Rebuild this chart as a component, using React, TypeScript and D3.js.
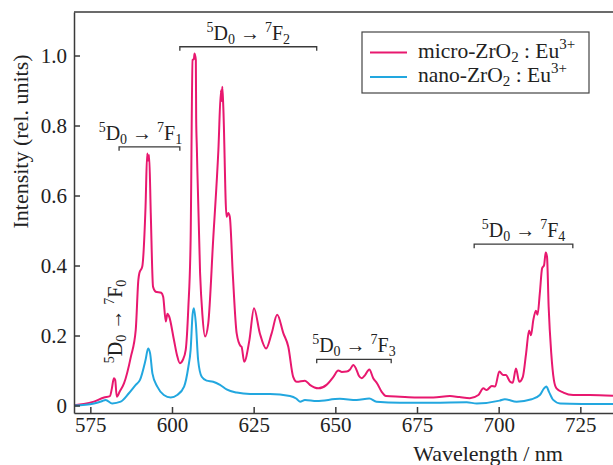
import React, { useEffect, useRef } from "react";
import * as d3 from "d3";

// micro-ZrO2:Eu3+ spectrum (pink)
const microWavelength = [
  570.0, 573.0, 576.1, 579.2, 581.0, 581.6, 582.2, 582.6, 583.1, 584.0, 585.3, 587.4, 588.9,
  589.7, 590.0, 590.9, 591.9, 592.4, 592.7, 593.0, 593.5, 594.2, 595.0, 596.7, 597.3, 598.1,
  598.6, 599.1, 600.6, 601.5, 602.4, 603.3, 604.2, 605.0, 605.7, 606.3, 606.7, 606.9, 607.3,
  607.4, 607.6, 608.6, 609.3, 610.1, 611.1, 612.6, 614.2, 615.0, 615.2, 615.4, 615.7, 616.7,
  617.2, 617.7, 618.6, 619.8, 621.0, 621.3, 622.1, 623.7, 625.1, 626.9, 628.8, 630.5, 632.2,
  634.1, 635.6, 637.1, 638.2, 640.7, 642.2, 644.8, 647.3, 649.4, 650.9, 652.0, 653.5, 654.5,
  655.5, 656.3, 657.2, 658.1, 659.1, 660.4, 661.6, 662.8, 664.2, 665.5, 669.8, 674.9, 680.0,
  685.1, 688.0, 691.2, 693.8, 695.3, 696.3, 697.9, 698.9, 700.2, 701.4, 702.2, 703.5, 704.3,
  705.3, 706.3, 707.4, 708.4, 709.3, 709.9, 710.6, 711.4, 711.9, 712.6, 713.3, 713.9, 714.4,
  714.8, 715.3, 716.1, 716.9, 717.7, 719.8, 722.8, 727.9, 735.0,
];
const microIntensity = [
  0.001, 0.004, 0.011, 0.023, 0.027, 0.049, 0.078, 0.073, 0.025, 0.04, 0.063, 0.139, 0.216,
  0.359, 0.378, 0.397, 0.568, 0.72, 0.7, 0.716, 0.549, 0.339, 0.325, 0.322, 0.311, 0.24,
  0.262, 0.255, 0.187, 0.145, 0.121, 0.13, 0.159, 0.28, 0.473, 0.987, 0.99, 1.006, 0.987,
  0.82, 0.739, 0.378, 0.26, 0.197, 0.235, 0.473, 0.73, 0.901, 0.87, 0.911, 0.854, 0.539,
  0.55, 0.539, 0.378, 0.206, 0.17, 0.168, 0.125, 0.187, 0.278, 0.206, 0.163, 0.206, 0.259,
  0.206, 0.168, 0.082, 0.068, 0.071, 0.059, 0.049, 0.059, 0.082, 0.1, 0.096, 0.097, 0.103,
  0.116, 0.106, 0.085, 0.078, 0.087, 0.103, 0.078, 0.063, 0.039, 0.027, 0.025, 0.023, 0.023,
  0.027, 0.024, 0.021, 0.03, 0.049, 0.044, 0.056, 0.054, 0.097, 0.087, 0.087, 0.068, 0.065,
  0.106, 0.068, 0.082, 0.149, 0.214, 0.201, 0.244, 0.271, 0.259, 0.321, 0.392, 0.401, 0.437,
  0.425, 0.282, 0.149, 0.073, 0.049, 0.037, 0.03, 0.03, 0.028,
];

// nano-ZrO2:Eu3+ spectrum (blue)
const nanoWavelength = [
  570.0, 576.1, 578.5, 579.7, 581.7, 584.3, 586.8, 588.9, 590.2, 591.9, 592.7, 593.3, 594.0,
  595.5, 597.5, 599.6, 601.6, 603.7, 605.0, 605.7, 606.3, 606.7, 607.3, 608.0, 609.1, 610.6,
  612.6, 614.7, 616.7, 619.8, 623.9, 630.0, 636.1, 638.0, 639.2, 640.7, 644.3, 651.4, 656.5,
  660.4, 662.6, 669.8, 680.0, 690.2, 693.3, 700.3, 701.9, 705.5, 710.1, 712.6, 713.9, 714.6,
  715.4, 716.7, 718.8, 735.0,
];
const nanoIntensity = [
  0.0, 0.006, 0.012, 0.016, 0.006, 0.011, 0.035, 0.059, 0.073, 0.13, 0.163, 0.149, 0.092,
  0.054, 0.03, 0.023, 0.03, 0.054, 0.11, 0.159, 0.26, 0.278, 0.235, 0.13, 0.082, 0.071,
  0.068, 0.059, 0.046, 0.037, 0.033, 0.033, 0.027, 0.02, 0.011, 0.016, 0.013, 0.019, 0.016,
  0.02, 0.011, 0.008, 0.008, 0.009, 0.006, 0.014, 0.018, 0.011, 0.018, 0.03, 0.049, 0.054,
  0.039, 0.016, 0.006, 0.004,
];

const xTicks = [575, 600, 625, 650, 675, 700, 725];
const yTicks = [0, 0.2, 0.4, 0.6, 0.8, 1.0];
const yTickLabels = ["0", "0.2", "0.4", "0.6", "0.8", "1.0"];

const seriesLabels = ["micro", "nano"];
const seriesColors = ["#e8186f", "#22a7df"];

// 5D0 -> 7FJ transitions: J, bracket range (nm), bracket level (rel. units)
const transitionJ = [1, 2, 3, 4];
const transitionStart = [583.8, 602.4, 644.3, 692.5];
const transitionEnd = [602.4, 644.3, 667.1, 722.7];
const transitionLevel = [0.739, 1.025, 0.132, 0.461];

const W = 613;
const H = 465;
const FONT = "Liberation Serif, Times New Roman, serif";

function addTransition(sel, j, sup = 14, size = 20) {
  sel.append("tspan").attr("font-size", sup).attr("dy", -8).text("5");
  sel.append("tspan").attr("font-size", size).attr("dy", 8).text("D");
  sel.append("tspan").attr("font-size", sup).attr("dy", 4).text("0");
  sel.append("tspan").attr("font-size", size).attr("dy", -4).text(" \u2192 ");
  sel.append("tspan").attr("font-size", sup).attr("dy", -8).text("7");
  sel.append("tspan").attr("font-size", size).attr("dy", 8).text("F");
  sel.append("tspan").attr("font-size", sup).attr("dy", 4).text(String(j));
}

export default function App() {
  const ref = useRef(null);

  useEffect(() => {
    const svg = d3.select(ref.current);
    svg.selectAll("*").remove();

    const left = 74, top = 12, bottom = 413, right = W;
    const x = d3.scaleLinear().domain([570, 735]).range([left, right]);
    const y = d3.scaleLinear().domain([-0.0214, 1.1243]).range([bottom, top]);

    svg.append("rect").attr("width", W).attr("height", H).attr("fill", "white");

    // curves
    const line = d3.line().x((d) => x(d[0])).y((d) => y(d[1])).curve(d3.curveMonotoneX);
    const series = [
      d3.zip(microWavelength, microIntensity),
      d3.zip(nanoWavelength, nanoIntensity),
    ];
    series.forEach((s, i) => {
      svg.append("path")
        .datum(s)
        .attr("d", line)
        .attr("fill", "none")
        .attr("stroke", seriesColors[i])
        .attr("stroke-width", 2)
        .attr("stroke-linejoin", "round");
    });

    // axes
    const axisColor = "#3a3a3a";
    const gy = svg.append("g")
      .attr("transform", `translate(${left},0)`)
      .call(d3.axisLeft(y).tickValues(yTicks).tickFormat((_, i) => yTickLabels[i]).tickSize(-6).tickSizeOuter(0).tickPadding(7));
    const gx = svg.append("g")
      .attr("transform", `translate(0,${bottom})`)
      .call(d3.axisBottom(x).tickValues(xTicks).tickFormat(d3.format("d")).tickSize(-6).tickSizeOuter(0).tickPadding(4));
    [gx, gy].forEach((g) => {
      g.attr("font-family", null).attr("font-size", null);
      g.selectAll("path, line").attr("stroke", axisColor).attr("stroke-width", 1.5);
      g.selectAll("text").attr("fill", "#222").style("font-size", "21px");
    });
    svg.append("line")
      .attr("x1", left).attr("x2", right).attr("y1", top).attr("y2", top)
      .attr("stroke", axisColor).attr("stroke-width", 1.5);

    // axis titles
    svg.append("text")
      .attr("transform", `translate(28,${(top + bottom) / 2 - 71}) rotate(-90)`)
      .attr("text-anchor", "middle")
      .style("font-size", "22px").attr("fill", "#222")
      .text("Intensity (rel. units)");
    svg.append("text")
      .attr("x", 488).attr("y", 461)
      .attr("text-anchor", "middle")
      .style("font-size", "22px").attr("fill", "#222")
      .text("Wavelength / nm");

    // transition brackets
    transitionJ.forEach((j, i) => {
      const x0 = x(transitionStart[i]), x1 = x(transitionEnd[i]), yl = y(transitionLevel[i]);
      svg.append("path")
        .attr("d", `M${x0},${yl + 4}V${yl}H${x1}V${yl + 4}`)
        .attr("fill", "none").attr("stroke", axisColor).attr("stroke-width", 1.3);
      const shift = j === 1 ? -9 : 0;
      const t = svg.append("text")
        .attr("x", (x0 + x1) / 2 + shift).attr("y", yl - 7)
        .attr("text-anchor", "middle")
        .attr("fill", "#222");
      addTransition(t, j);
    });

    // 5D0 -> 7F0, vertical
    const t0 = svg.append("text")
      .attr("transform", `translate(122,${y(0.24)}) rotate(-90)`)
      .attr("text-anchor", "middle")
      .attr("fill", "#222");
    addTransition(t0, 0);

    // legend
    const lg = svg.append("g").style("font-size", "21.5px").attr("fill", "#222");
    lg.append("rect")
      .attr("x", 362).attr("y", 32).attr("width", 227).attr("height", 61)
      .attr("fill", "white").attr("stroke", "#444").attr("stroke-width", 1.2);
    seriesLabels.forEach((name, i) => {
      const ly = 52.5 + i * 24.5;
      lg.append("line")
        .attr("x1", 370).attr("x2", 407).attr("y1", ly).attr("y2", ly)
        .attr("stroke", seriesColors[i]).attr("stroke-width", 2);
      const t = lg.append("text").attr("x", 418).attr("y", ly + 5);
      t.append("tspan").text(`${name}-ZrO`);
      t.append("tspan").style("font-size", "15px").attr("dy", 4).text("2");
      t.append("tspan").attr("dy", -4).text(" : Eu");
      t.append("tspan").style("font-size", "15px").attr("dy", -9).text("3+");
    });
  }, []);

  return (
    <svg ref={ref} width={W} height={H} style={{ position: "absolute", left: 0, top: 0, fontFamily: FONT }} />
  );
}
